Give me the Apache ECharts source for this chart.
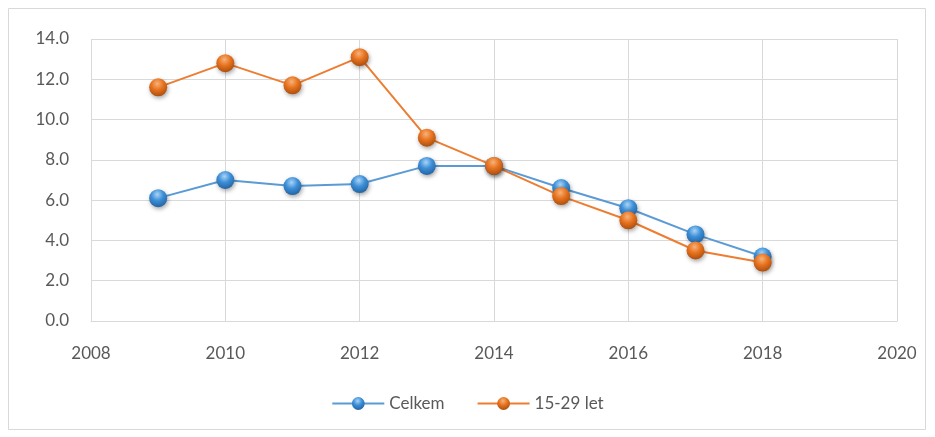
<!DOCTYPE html>
<html lang="cs">
<head>
    <meta charset="UTF-8">
    <title>Celkem / 15-29 let</title>
    <script src="https://cdn.jsdelivr.net/npm/echarts@6/dist/echarts.min.js"></script>
    <style>
        html, body { margin: 0; padding: 0; background: #fff; }
        #chart { width: 935px; height: 437px; }
    </style>
</head>
<body>
    <div id="chart"></div>
    <script>
        var years = [2009, 2010, 2011, 2012, 2013, 2014, 2015, 2016, 2017, 2018];
        var celkem = [6.1, 7.0, 6.7, 6.8, 7.7, 7.7, 6.6, 5.6, 4.3, 3.2];
        var mladi = [11.6, 12.8, 11.7, 13.1, 9.1, 7.7, 6.2, 5.0, 3.5, 2.9];
        var seriesNames = ['Celkem', '15-29 let'];

        function ball(light, base, dark) {
            return {
                type: 'radial', x: 0.45, y: 0.3, r: 0.75,
                colorStops: [
                    { offset: 0, color: light },
                    { offset: 0.45, color: base },
                    { offset: 1, color: dark }
                ]
            };
        }

        function pairs(vals) {
            var out = [];
            for (var i = 0; i < years.length; i++) {
                out.push([years[i], vals[i]]);
            }
            return out;
        }

        var blueBall = ball('#a9d4f5', '#3d8fd8', '#1f5f9c');
        var orangeBall = ball('#f7b27a', '#e8731f', '#a44a0c');

        var chart = echarts.init(document.getElementById('chart'));
        var option = {
            animation: false,
            textStyle: { fontFamily: 'Lato, Open Sans, sans-serif' },
            graphic: [{
                type: 'rect',
                shape: { x: 8.5, y: 8.5, width: 917, height: 421 },
                style: { fill: 'none', stroke: '#d9d9d9', lineWidth: 1 },
                silent: true
            }],
            grid: { left: 91, right: 38, top: 39, bottom: 116 },
            legend: {
                bottom: 20,
                left: 'center',
                itemWidth: 52,
                itemHeight: 16,
                itemGap: 32,
                textStyle: { color: '#595959', fontSize: 17 },
                data: seriesNames
            },
            xAxis: {
                type: 'value',
                min: 2008,
                max: 2020,
                interval: 2,
                axisLine: { show: true, lineStyle: { color: '#d9d9d9', width: 1 } },
                axisTick: { show: false },
                axisLabel: {
                    color: '#595959', fontSize: 17, margin: 24,
                    formatter: function (v) { return String(v); }
                },
                splitLine: { show: true, lineStyle: { color: '#d9d9d9', width: 1 } }
            },
            yAxis: {
                type: 'value',
                min: 0,
                max: 14,
                interval: 2,
                axisLine: { show: false },
                axisTick: { show: false },
                axisLabel: {
                    color: '#595959', fontSize: 17, margin: 22,
                    formatter: function (v) { return v.toFixed(1); }
                },
                splitLine: { lineStyle: { color: '#d9d9d9', width: 1 } }
            },
            series: [{
                name: seriesNames[0],
                type: 'line',
                data: pairs(celkem),
                symbol: 'circle',
                symbolSize: 18,
                lineStyle: { color: '#5b9bd5', width: 2 },
                itemStyle: {
                    color: blueBall,
                    shadowColor: 'rgba(0,0,0,0.35)', shadowBlur: 4, shadowOffsetX: 1, shadowOffsetY: 2
                }
            }, {
                name: seriesNames[1],
                type: 'line',
                data: pairs(mladi),
                symbol: 'circle',
                symbolSize: 18,
                lineStyle: { color: '#ed7d31', width: 2 },
                itemStyle: {
                    color: orangeBall,
                    shadowColor: 'rgba(0,0,0,0.35)', shadowBlur: 4, shadowOffsetX: 1, shadowOffsetY: 2
                }
            }]
        };
        chart.setOption(option);
    </script>
</body>
</html>
